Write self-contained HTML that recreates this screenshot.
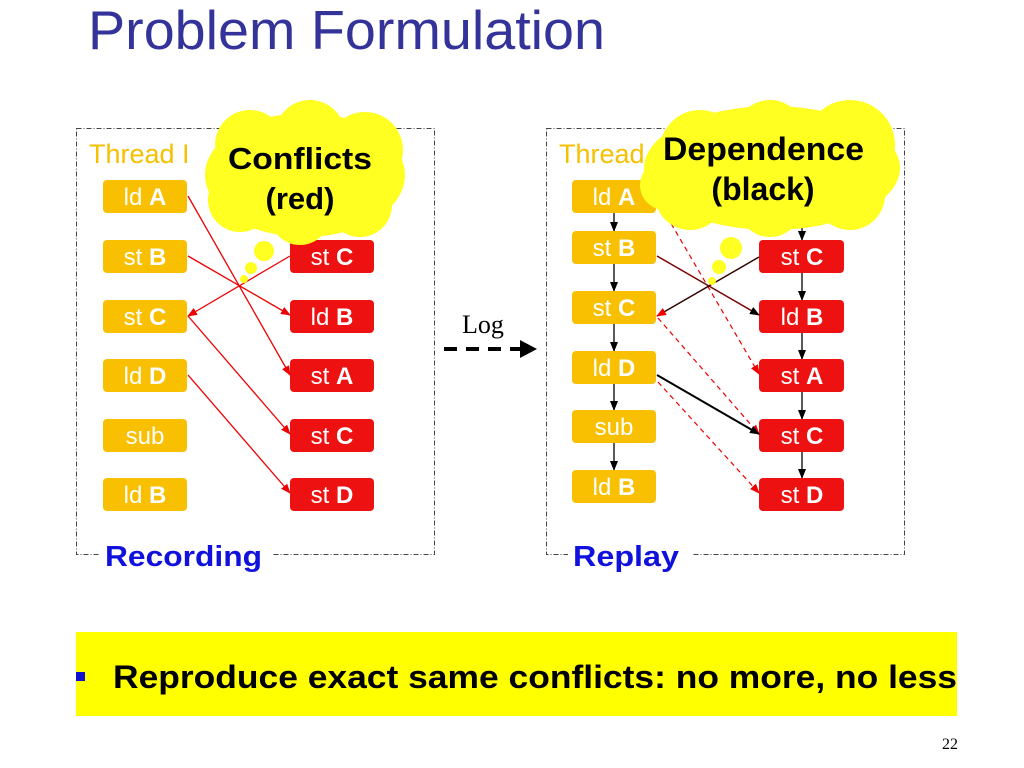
<!DOCTYPE html>
<html><head><style>
body{margin:0;background:#fff;width:1024px;height:768px;overflow:hidden}
svg{display:block}
text{font-family:"Liberation Sans",sans-serif}
</style></head><body>
<svg width="1024" height="768" viewBox="0 0 1024 768">
<defs>
<marker id="ar" markerWidth="10" markerHeight="8" refX="9" refY="4" orient="auto" markerUnits="userSpaceOnUse"><path d="M0,0 L10,4 L0,8 z" fill="#e00"/></marker>
<marker id="ab" markerWidth="10" markerHeight="8" refX="9" refY="4" orient="auto" markerUnits="userSpaceOnUse"><path d="M0,0 L10,4 L0,8 z" fill="#000"/></marker>
</defs>
<text x="88" y="49" font-size="55" fill="#333399" textLength="517" lengthAdjust="spacingAndGlyphs">Problem Formulation</text>

<!-- left panel -->
<rect x="76.5" y="128.5" width="358" height="426" fill="none" stroke="#444" stroke-dasharray="5,2,1,2"/>
<text x="89" y="163" font-size="27" fill="#f5c000">Thread I</text>
<g font-size="24" fill="#fff" text-anchor="middle">
<g fill="#f8c000"><rect x="103" y="180" width="84" height="33" rx="4"/><rect x="103" y="240" width="84" height="33" rx="4"/><rect x="103" y="300" width="84" height="33" rx="4"/><rect x="103" y="359" width="84" height="33" rx="4"/><rect x="103" y="419" width="84" height="33" rx="4"/><rect x="103" y="478" width="84" height="33" rx="4"/></g>
<g fill="#ee1111"><rect x="290" y="240" width="84" height="33" rx="4"/><rect x="290" y="300" width="84" height="33" rx="4"/><rect x="290" y="359" width="84" height="33" rx="4"/><rect x="290" y="419" width="84" height="33" rx="4"/><rect x="290" y="478" width="84" height="33" rx="4"/></g>
<text x="145" y="205">ld <tspan font-weight="bold">A</tspan></text>
<text x="145" y="265">st <tspan font-weight="bold">B</tspan></text>
<text x="145" y="325">st <tspan font-weight="bold">C</tspan></text>
<text x="145" y="384">ld <tspan font-weight="bold">D</tspan></text>
<text x="145" y="444">sub</text>
<text x="145" y="503">ld <tspan font-weight="bold">B</tspan></text>
<text x="332" y="265">st <tspan font-weight="bold">C</tspan></text>
<text x="332" y="325">ld <tspan font-weight="bold">B</tspan></text>
<text x="332" y="384">st <tspan font-weight="bold">A</tspan></text>
<text x="332" y="444">st <tspan font-weight="bold">C</tspan></text>
<text x="332" y="503">st <tspan font-weight="bold">D</tspan></text>
</g>
<g stroke="#e00" stroke-width="1.3" marker-end="url(#ar)">
<line x1="188" y1="196" x2="290" y2="375"/>
<line x1="188" y1="256" x2="290" y2="315"/>
<line x1="290" y1="256" x2="188" y2="316"/>
<line x1="188" y1="316" x2="290" y2="434"/>
<line x1="188" y1="375" x2="290" y2="493"/>
</g>
<g fill="#ffff22">
<ellipse cx="305" cy="175" rx="100" ry="62"/>
<circle cx="250" cy="145" r="35"/><circle cx="310" cy="135" r="35"/><circle cx="365" cy="150" r="38"/><circle cx="240" cy="200" r="32"/><circle cx="300" cy="215" r="30"/><circle cx="360" cy="205" r="32"/>
<circle cx="264" cy="251" r="10"/><circle cx="251" cy="268" r="6"/><circle cx="244" cy="279" r="4"/>
</g>
<text x="228" y="169" font-size="31" font-weight="bold" textLength="144" lengthAdjust="spacingAndGlyphs">Conflicts</text>
<text x="300" y="209" font-size="31" font-weight="bold" text-anchor="middle">(red)</text>
<rect x="100" y="540" width="172" height="30" fill="#fff"/>
<text x="105" y="566" font-size="29" font-weight="bold" fill="#1111dd" textLength="157" lengthAdjust="spacingAndGlyphs">Recording</text>

<!-- log -->
<text x="462" y="333" font-size="26" style="font-family:'Liberation Serif',serif">Log</text>
<line x1="444" y1="349" x2="525" y2="349" stroke="#000" stroke-width="4" stroke-dasharray="13,9"/>
<path d="M520,340 L537,349 L520,358 z" fill="#000"/>

<!-- right panel -->
<rect x="546.5" y="128.5" width="358" height="426" fill="none" stroke="#444" stroke-dasharray="5,2,1,2"/>
<text x="559" y="163" font-size="27" fill="#f5c000">Thread</text>
<g stroke="#000" stroke-width="1.3" marker-end="url(#ab)">
<line x1="614" y1="205" x2="614" y2="231"/><line x1="614" y1="263" x2="614" y2="291"/><line x1="614" y1="323" x2="614" y2="351"/><line x1="614" y1="383" x2="614" y2="410"/><line x1="614" y1="442" x2="614" y2="470"/>
<line x1="802" y1="225" x2="802" y2="240"/><line x1="802" y1="273" x2="802" y2="300"/><line x1="802" y1="333" x2="802" y2="359"/><line x1="802" y1="392" x2="802" y2="419"/><line x1="802" y1="452" x2="802" y2="478"/>
</g>
<g font-size="24" fill="#fff" text-anchor="middle">
<g fill="#f8c000"><rect x="572" y="180" width="84" height="33" rx="4"/><rect x="572" y="231" width="84" height="33" rx="4"/><rect x="572" y="291" width="84" height="33" rx="4"/><rect x="572" y="351" width="84" height="33" rx="4"/><rect x="572" y="410" width="84" height="33" rx="4"/><rect x="572" y="470" width="84" height="33" rx="4"/></g>
<g fill="#ee1111"><rect x="759" y="240" width="85" height="33" rx="4"/><rect x="759" y="300" width="85" height="33" rx="4"/><rect x="759" y="359" width="85" height="33" rx="4"/><rect x="759" y="419" width="85" height="33" rx="4"/><rect x="759" y="478" width="85" height="33" rx="4"/></g>
<text x="614" y="205">ld <tspan font-weight="bold">A</tspan></text>
<text x="614" y="256">st <tspan font-weight="bold">B</tspan></text>
<text x="614" y="316">st <tspan font-weight="bold">C</tspan></text>
<text x="614" y="376">ld <tspan font-weight="bold">D</tspan></text>
<text x="614" y="435">sub</text>
<text x="614" y="495">ld <tspan font-weight="bold">B</tspan></text>
<text x="802" y="265">st <tspan font-weight="bold">C</tspan></text>
<text x="802" y="325">ld <tspan font-weight="bold">B</tspan></text>
<text x="802" y="384">st <tspan font-weight="bold">A</tspan></text>
<text x="802" y="444">st <tspan font-weight="bold">C</tspan></text>
<text x="802" y="503">st <tspan font-weight="bold">D</tspan></text>
</g>
<g stroke="#e00" stroke-width="1.2" stroke-dasharray="5,4" marker-end="url(#ar)">
<line x1="662" y1="208" x2="759" y2="374"/>
<line x1="658" y1="318" x2="759" y2="434"/>
<line x1="658" y1="382" x2="759" y2="493"/>
</g>
<line x1="657" y1="256" x2="759" y2="315" stroke="#700" stroke-width="1.5" marker-end="url(#ab)"/>
<line x1="759" y1="257" x2="657" y2="316" stroke="#300" stroke-width="1.5" marker-end="url(#ar)"/>
<line x1="657" y1="375" x2="759" y2="434" stroke="#000" stroke-width="2" marker-end="url(#ab)"/>
<g fill="#ffff22">
<ellipse cx="772" cy="168" rx="128" ry="62"/>
<circle cx="700" cy="150" r="40"/><circle cx="770" cy="135" r="35"/><circle cx="850" cy="145" r="45"/><circle cx="690" cy="195" r="35"/><circle cx="770" cy="205" r="32"/><circle cx="850" cy="195" r="35"/><circle cx="665" cy="185" r="25"/>
<circle cx="731" cy="248" r="11"/><circle cx="719" cy="267" r="7"/><circle cx="712" cy="281" r="4"/>
</g>
<text x="663" y="160" font-size="32" font-weight="bold" textLength="201" lengthAdjust="spacingAndGlyphs">Dependence</text>
<text x="763" y="200" font-size="32" font-weight="bold" text-anchor="middle">(black)</text>
<rect x="568" y="540" width="124" height="30" fill="#fff"/>
<text x="573" y="566" font-size="29" font-weight="bold" fill="#1111dd" textLength="106" lengthAdjust="spacingAndGlyphs">Replay</text>

<!-- banner -->
<rect x="76" y="632" width="881" height="84" fill="#ffff00"/>
<rect x="76" y="672" width="9" height="9" fill="#1111cc"/>
<text x="113" y="688" font-size="32" font-weight="bold" textLength="844" lengthAdjust="spacingAndGlyphs">Reproduce exact same conflicts: no more, no less</text>
<text x="942" y="749" font-size="16" style="font-family:'Liberation Serif',serif">22</text>
</svg>
</body></html>
